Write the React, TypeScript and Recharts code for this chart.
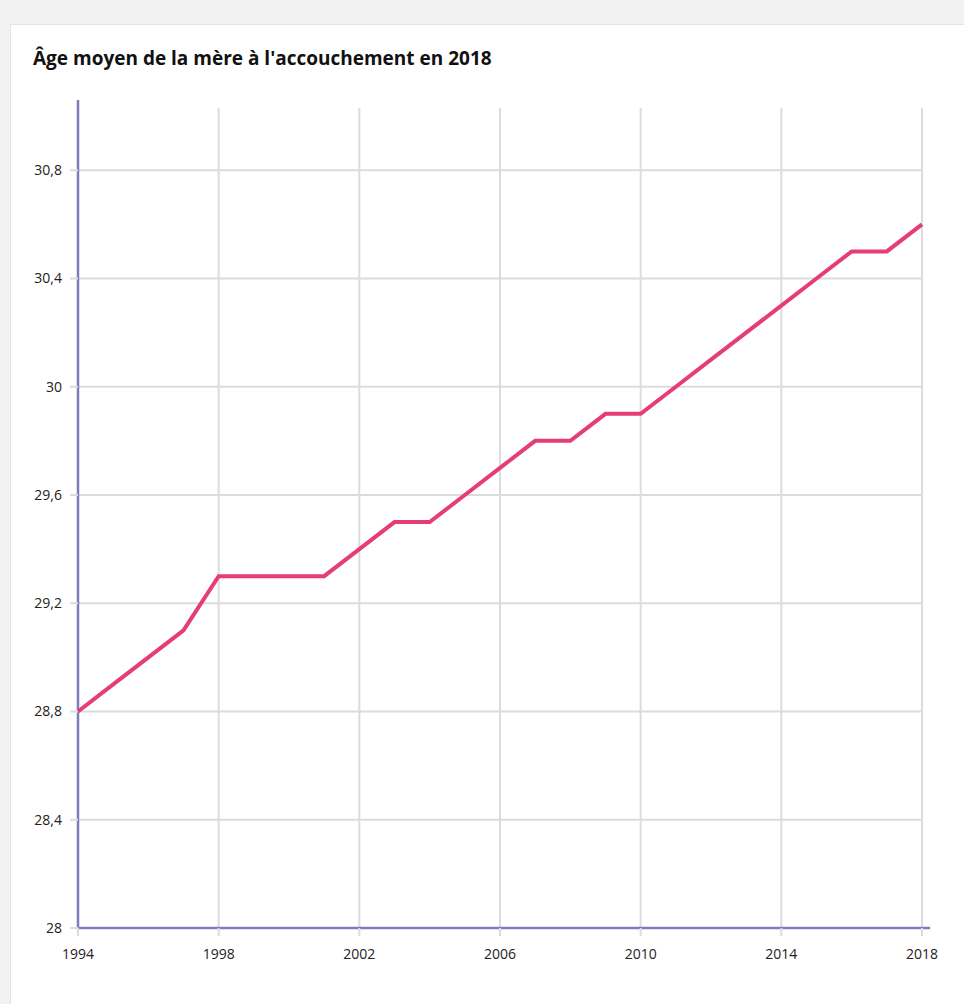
import { LineChart, Line, XAxis, YAxis, CartesianGrid, ReferenceLine } from 'recharts'

// années et âge moyen de la mère à l'accouchement
const years = [1994, 1995, 1996, 1997, 1998, 1999, 2000, 2001, 2002, 2003, 2004, 2005, 2006, 2007, 2008, 2009, 2010, 2011, 2012, 2013, 2014, 2015, 2016, 2017, 2018]
const ages = [28.8, 28.9, 29.0, 29.1, 29.3, 29.3, 29.3, 29.3, 29.4, 29.5, 29.5, 29.6, 29.7, 29.8, 29.8, 29.9, 29.9, 30.0, 30.1, 30.2, 30.3, 30.4, 30.5, 30.5, 30.6]
const xTicks = [1994, 1998, 2002, 2006, 2010, 2014, 2018]
const yTicks = [28, 28.4, 28.8, 29.2, 29.6, 30, 30.4, 30.8]

const data = years.map((year, i) => ({ year, age: ages[i] }))

const FONT = "'Open Sans', sans-serif"
const AXIS = '#7d7dbd'
const GRID = '#dcdcdc'

const fmt = (v: number) => String(v).replace('.', ',')

export default function App() {
  return (
    <div style={{ position: 'fixed', left: 0, top: 0, width: 964, height: 1004, background: '#f2f2f2', overflow: 'hidden' }}>
      <div
        style={{
          position: 'absolute',
          left: 10,
          top: 24,
          width: 980,
          height: 1000,
          background: '#fff',
          border: '1px solid #e4e4e4',
        }}
      />
      <div
        style={{
          position: 'absolute',
          left: 33,
          top: 45,
          fontFamily: FONT,
          fontWeight: 700,
          fontSize: 19,
          color: '#111',
        }}
      >
        Âge moyen de la mère à l'accouchement en 2018
      </div>
      <div style={{ position: 'absolute', left: 0, top: 0 }}>
        <LineChart
          width={964}
          height={1004}
          data={data}
          margin={{ top: 108, right: 42, left: 18, bottom: 46 }}
        >
          <CartesianGrid stroke={GRID} strokeWidth={2} horizontal={false} verticalValues={xTicks} />
          {yTicks.map((t) => (
            <ReferenceLine key={t} y={t} stroke={GRID} strokeWidth={2} />
          ))}
          <XAxis
            dataKey="year"
            type="number"
            domain={[1994, 2018]}
            ticks={xTicks}
            height={30}
            axisLine={false}
            tickLine={{ stroke: GRID, strokeWidth: 2 }}
            tickSize={8}
            tickMargin={13}
            tick={{ fill: '#222', fontSize: 14, fontFamily: FONT }}
          />
          <YAxis
            type="number"
            domain={[28, 31.03]}
            ticks={yTicks}
            width={60}
            allowDataOverflow
            axisLine={false}
            tickLine={{ stroke: GRID, strokeWidth: 2 }}
            tickSize={8}
            tickMargin={8}
            tickFormatter={fmt}
            tick={{ fill: '#222', fontSize: 14, fontFamily: FONT }}
          />
          <ReferenceLine
            segment={[{ x: 1994, y: 28 }, { x: 1994, y: 31.06 }]}
            ifOverflow="visible"
            stroke={AXIS}
            strokeWidth={2.5}
          />
          <ReferenceLine
            segment={[{ x: 1993.97, y: 28 }, { x: 2018.23, y: 28 }]}
            ifOverflow="visible"
            stroke={AXIS}
            strokeWidth={2.5}
          />
          <Line
            type="linear"
            dataKey="age"
            stroke="#e63d72"
            strokeWidth={4}
            dot={false}
            activeDot={false}
            isAnimationActive={false}
          />
        </LineChart>
      </div>
    </div>
  )
}
